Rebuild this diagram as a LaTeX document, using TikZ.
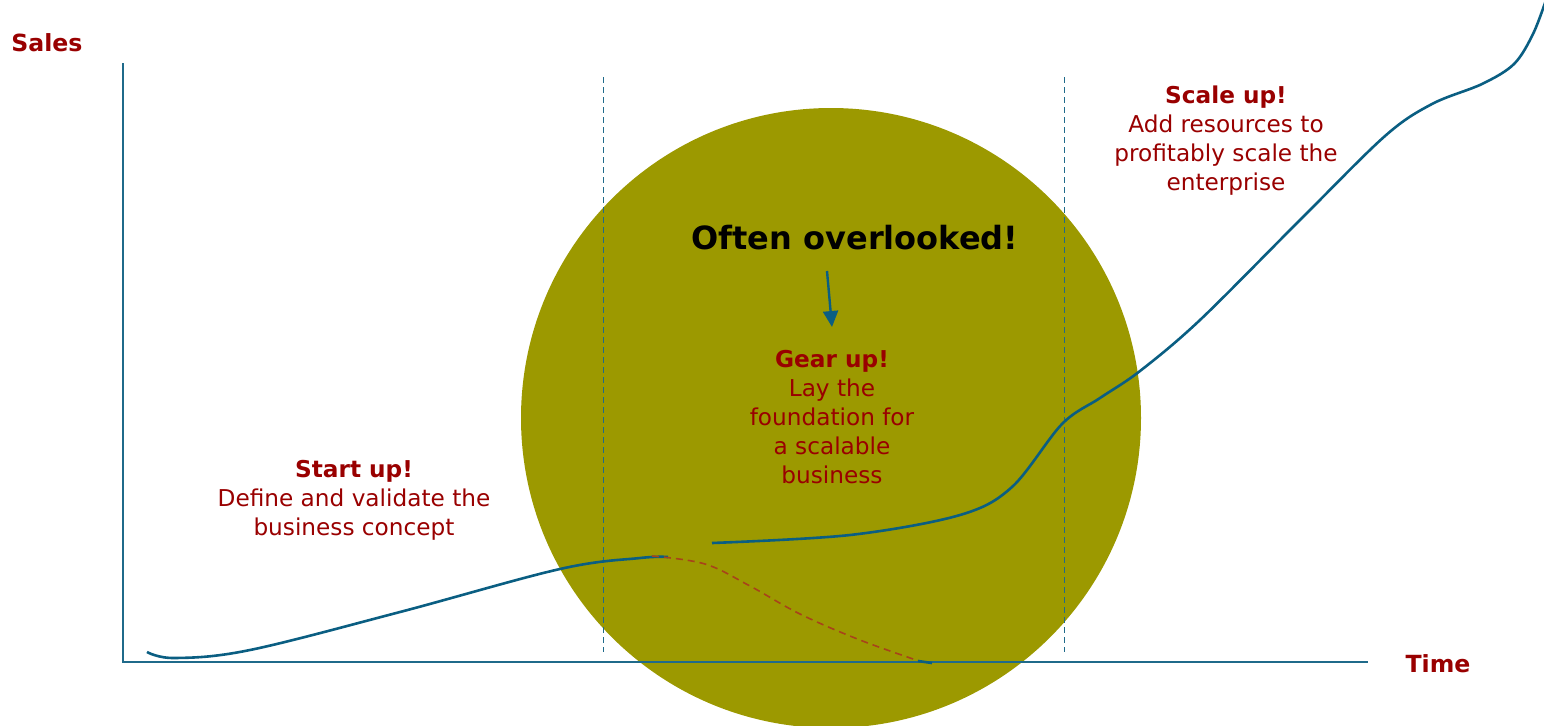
\documentclass[tikz,border=0pt]{standalone}
\usepackage{fontspec}
\setmainfont{DejaVu Sans}
\usetikzlibrary{arrows.meta}
\definecolor{axisBlue}{HTML}{1F6A8A}
\definecolor{curveBlue}{HTML}{0A5E82}
\definecolor{gearFill}{HTML}{9C9900}
\definecolor{labelRed}{HTML}{990000}
\definecolor{dropRed}{HTML}{A8431A}
\tikzset{
  lbl/.style    ={align=center, text=labelRed, inner sep=0pt, font=\fontsize{11.6}{14.5}\selectfont},
  axlbl/.style  ={text=labelRed, inner sep=0pt, font=\fontsize{11.8}{13}\selectfont\bfseries},
  axis/.style   ={draw=axisBlue, line width=0.6pt},
  phase/.style  ={draw=axisBlue, line width=0.5pt, dash pattern=on 3pt off 2pt},
  growth/.style ={draw=curveBlue, line width=1.3pt},
  drop/.style   ={draw=dropRed, line width=0.8pt, dash pattern=on 3.5pt off 2.5pt},
  arr/.style    ={-{Triangle[length=8pt, width=7.5pt]}, draw=curveBlue, fill=curveBlue, line width=1.2pt},
}
\begin{document}
\begin{tikzpicture}[x=0.5pt, y=-0.5pt]
  \useasboundingbox (0,0) rectangle (1544,725);
  % gear up circle
  \fill[gearFill] (831,418) circle[radius=310];
  % axes
  \coordinate (org) at (123,662);
  \coordinate (ytop) at (123,63);
  \coordinate (xend) at (1368,662);
  \draw[axis] (ytop) -- (org) -- (xend);
  \node[axlbl] (sales) at (47,43) {Sales};
  \node[axlbl] (time) at (1438,664) {Time};
  % phase borders
  \coordinate (p1t) at (603,77);  \coordinate (p1b) at (603,652);
  \coordinate (p2t) at (1064,77); \coordinate (p2b) at (1064,652);
  \draw[phase] (p1t) -- (p1b);
  \draw[phase] (p2t) -- (p2b);
  % start up curve and its drop
  \draw[growth] plot[smooth, tension=0.6] coordinates {(147,652) (175,658) (250,650) (400,612) (560,569) (640,558) (668,557)};
  \draw[drop] plot[smooth, tension=0.6] coordinates {(652,556) (705,564) (750,586) (800,614) (860,640) (922,662)};
  \draw[growth] (918,661) -- (932,663);
  % scale up curve
  \draw[growth] plot[smooth, tension=0.55] coordinates {(712,543) (850,535) (960,515) (1012,487) (1062,424) (1100,398) (1140,371) (1200,320) (1300,220) (1385,136) (1432,104) (1482,84) (1514,64) (1533,34) (1546,0)};
  % labels
  \node[lbl] (start) at (354,500) {\textbf{Start up!}\\Define and validate the\\business concept};
  \node[lbl] (gear) at (832,417) {\textbf{Gear up!}\\Lay the\\foundation for\\a scalable\\business};
  \node[lbl] (scale) at (1226,141) {\textbf{Scale up!}\\Add resources to\\profitably scale the\\enterprise};
  \node[inner sep=0pt, font=\fontsize{16}{18}\selectfont\bfseries] (over) at (855,238) {Often overlooked!};
  \coordinate (arrTail) at (827,271);
  \coordinate (arrHead) at (832,327);
  \draw[arr] (arrTail) -- (arrHead);
\end{tikzpicture}
\end{document}
